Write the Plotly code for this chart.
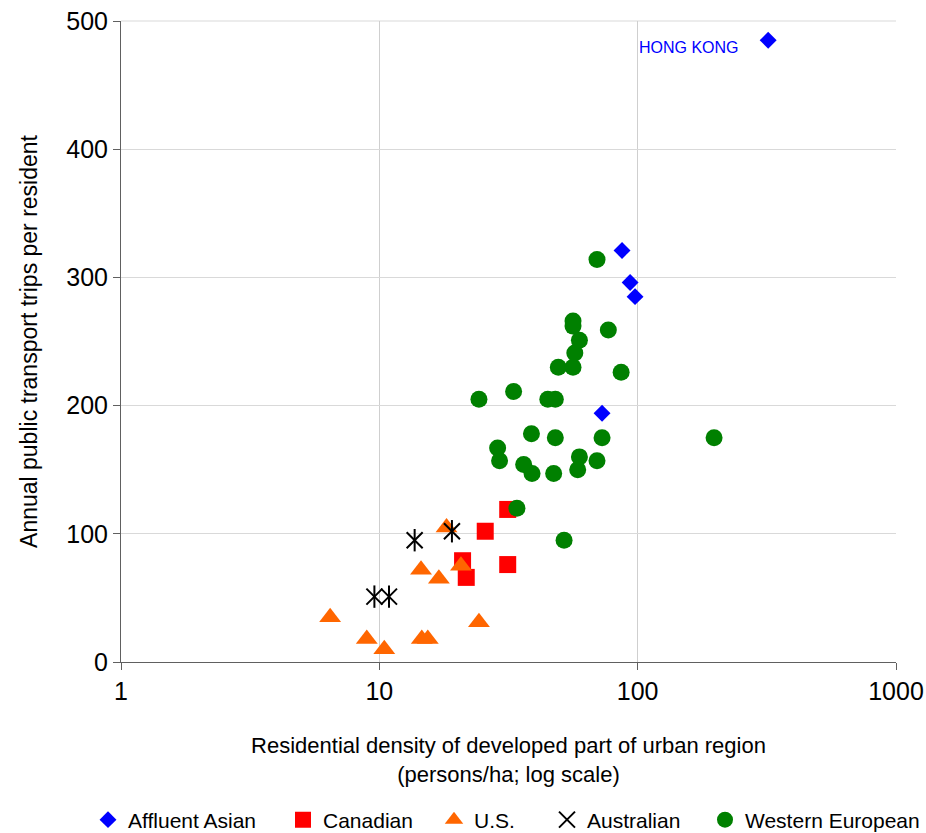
import math
import plotly.graph_objects as go

# Affluent Asian
asian_x = [320, 87, 93.5, 97.7, 72.8]
asian_y = [485, 321, 296, 285, 194]

# Canadian
can_x = [31.4, 25.7, 21.0, 21.7, 31.4]
can_y = [119, 102, 79, 66, 76]

# U.S.
us_x = [18.2, 14.5, 17.0, 20.7, 6.45, 8.94, 10.45, 14.6, 15.4, 24.3]
us_y = [105, 72, 65, 75, 35, 18, 10, 18, 18, 31]

# Australian
aus_x = [13.7, 19.1, 9.57, 10.9]
aus_y = [95, 102, 51, 51]

# Western European
eu_x = [69.6, 56.2, 56.2, 77, 59.5, 57.1, 49.3, 56.2, 86.3, 24.3, 33.1, 44.9, 48,
        38.8, 48, 72.8, 197.6, 28.7, 29.2, 36.2, 39, 47.3, 59.5, 58.6, 69.6, 34.1, 51.9]
eu_y = [314, 266, 262, 259, 251, 241, 230, 230, 226, 205, 211, 205, 205,
        178, 175, 175, 175, 167, 157, 154, 147, 147, 160, 150, 157, 120, 95]

label_text = "HONG KONG"
label_x = 251
label_y = 479

FONT = "Liberation Sans, Arial, sans-serif"
W, H = 926, 833

fig = go.Figure()

fig.add_trace(go.Scatter(x=can_x, y=can_y, mode="markers", name="Canadian", legend="legend2",
                         marker=dict(symbol="square", size=17, color="#FF0000", line=dict(width=0))))
fig.add_trace(go.Scatter(x=us_x, y=us_y, mode="markers", name="U.S.", legend="legend3",
                         marker=dict(symbol="triangle-up", size=19, color="#FF6600", line=dict(width=0))))
fig.add_trace(go.Scatter(x=aus_x, y=aus_y, mode="markers", name="Australian", legend="legend4",
                         marker=dict(symbol="x-thin-open", size=16, color="black",
                                     line=dict(width=2, color="black"))))
fig.add_trace(go.Scatter(x=aus_x, y=aus_y, mode="markers", name="Australian", showlegend=False,
                         marker=dict(symbol="line-ns-open", size=16, color="black",
                                     line=dict(width=2, color="black"))))
fig.add_trace(go.Scatter(x=eu_x, y=eu_y, mode="markers", name="Western European", legend="legend5",
                         marker=dict(symbol="circle", size=17, color="#008000", line=dict(width=0))))
fig.add_trace(go.Scatter(x=asian_x, y=asian_y, mode="markers", name="Affluent Asian", legend="legend",
                         marker=dict(symbol="diamond", size=13, color="#0000FF", line=dict(width=0))))

fig.add_annotation(x=math.log10(label_x), y=label_y, xref="x", yref="y", text=label_text, showarrow=False,
                   xanchor="right", yanchor="middle",
                   font=dict(family=FONT, size=16, color="#0000FF"))

# top frame edge (gridline at 500 sits on plot edge)
fig.add_shape(type="line", xref="paper", yref="paper", x0=0, x1=1, y0=1, y1=1,
              line=dict(color="#d9d9d9", width=1), layer="below")

leg_common = dict(orientation="h", xref="container", yref="container", yanchor="middle",
                  xanchor="left", font=dict(family=FONT, size=21, color="black"),
                  bgcolor="rgba(0,0,0,0)", itemwidth=30, tracegroupgap=0)
leg_text_start = [125, 320, 471, 584, 742]
layout_legends = {}
for i, px in enumerate(leg_text_start):
    key = "legend" if i == 0 else f"legend{i+1}"
    layout_legends[key] = dict(leg_common, x=(px - 37) / W, y=(H - 820) / H)

fig.update_layout(
    width=W, height=H,
    margin=dict(l=121, r=30, t=21, b=171, autoexpand=False),
    paper_bgcolor="white", plot_bgcolor="white",
    font=dict(family=FONT, size=22, color="black"),
    showlegend=True,
    **layout_legends,
)

fig.update_xaxes(type="log", range=[0, 3], tickvals=[1, 10, 100, 1000], ticktext=["1", "10", "100", "1000"],
                 showgrid=True, gridcolor="#cfcfcf", gridwidth=1, automargin=False,
                 showline=True, linecolor="#606060", linewidth=1,
                 ticks="outside", ticklen=7, tickcolor="#606060",
                 tickfont=dict(family=FONT, size=25),
                 title=dict(text="Residential density of developed part of urban region<br>(persons/ha; log scale)",
                            font=dict(family=FONT, size=22), standoff=33),
                 zeroline=False, mirror=False)
fig.update_yaxes(range=[0, 500], tickvals=[0, 100, 200, 300, 400, 500],
                 showgrid=True, gridcolor="#d9d9d9", gridwidth=1, automargin=False,
                 showline=True, linecolor="#606060", linewidth=1,
                 ticks="outside", ticklen=7, tickcolor="#606060",
                 tickfont=dict(family=FONT, size=25),
                 title=dict(text="Annual public transport trips per resident",
                            font=dict(family=FONT, size=23), standoff=22),
                 zeroline=False)

fig.write_html("out.html", config={"displayModeBar": False},
               post_script="document.body.style.margin='0';document.body.style.overflow='hidden';")
